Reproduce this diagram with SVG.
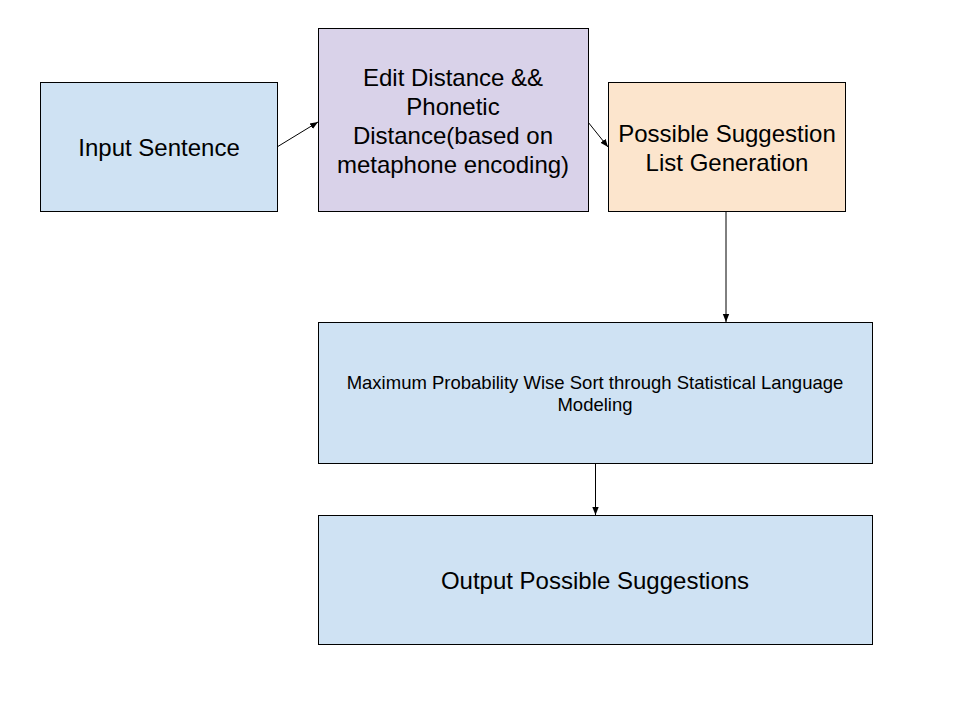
<svg xmlns="http://www.w3.org/2000/svg" width="960" height="720" viewBox="0 0 960 720">
<style>
.box{stroke:#000;stroke-width:1}
.blue{fill:#cfe2f3}.purple{fill:#d9d2e9}.orange{fill:#fce5cd}
.t{font-family:"Liberation Sans",Arial,sans-serif;fill:#000;text-anchor:middle}
.big{font-size:24px}.small{font-size:18.5px}
.c{stroke:#000;stroke-width:1;fill:none;marker-end:url(#ah)}
</style>
<defs>
<marker id="ah" viewBox="0 0 10 10" refX="10" refY="5" markerWidth="8" markerHeight="8" markerUnits="userSpaceOnUse" orient="auto">
<path d="M0,1 L10,5 L0,9 z" fill="#000"/>
</marker>
</defs>
<rect width="960" height="720" fill="#fff"/>
<g id="connectors">
<line class="c" x1="277" y1="147" x2="318" y2="122"/>
<line class="c" x1="588" y1="122" x2="608" y2="147"/>
<line class="c" x1="726" y1="211" x2="726" y2="322"/>
<line class="c" x1="595.5" y1="463" x2="595.5" y2="515"/>
</g>
<g id="input">
<rect class="box blue" x="40.5" y="82.5" width="237" height="129"/>
<text class="t big" x="159" y="156">Input Sentence</text>
</g>
<g id="distance">
<rect class="box purple" x="318.5" y="28.5" width="270" height="183"/>
<text class="t big" x="453" y="86">Edit Distance &amp;&amp;</text>
<text class="t big" x="453" y="115">Phonetic</text>
<text class="t big" x="453" y="144">Distance(based on</text>
<text class="t big" x="453" y="173">metaphone encoding)</text>
</g>
<g id="suggestions">
<rect class="box orange" x="608.5" y="82.5" width="237" height="129"/>
<text class="t big" x="727" y="142">Possible Suggestion</text>
<text class="t big" x="727" y="171">List Generation</text>
</g>
<g id="sort">
<rect class="box blue" x="318.5" y="322.5" width="554" height="141"/>
<text class="t small" x="595" y="389">Maximum Probability Wise Sort through Statistical Language</text>
<text class="t small" x="595" y="411">Modeling</text>
</g>
<g id="output">
<rect class="box blue" x="318.5" y="515.5" width="554" height="129"/>
<text class="t big" x="595" y="589">Output Possible Suggestions</text>
</g>
</svg>
